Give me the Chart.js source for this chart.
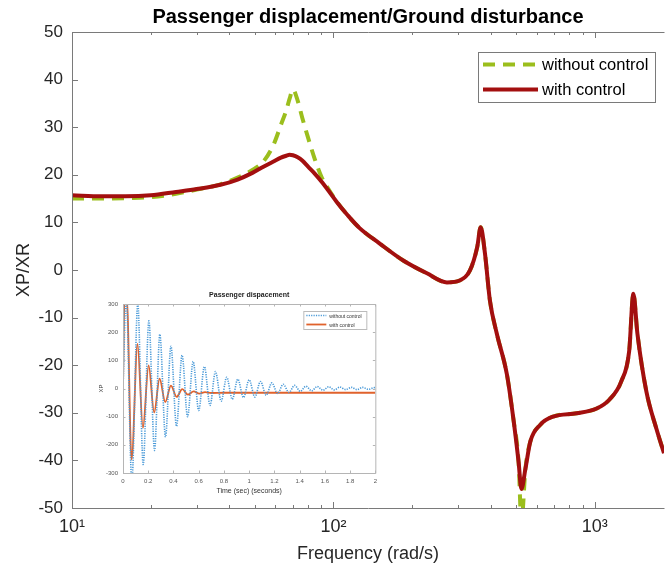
<!DOCTYPE html>
<html>
<head>
<meta charset="utf-8">
<script src="https://cdn.jsdelivr.net/npm/chart.js@4.4.0/dist/chart.umd.min.js"></script>
<style>
  html, body { margin: 0; padding: 0; background: #fff; overflow: hidden; }
  #wrap { position: relative; width: 666px; height: 569px; }
  #main { position: absolute; left: 0; top: 0; }
  #inset { position: absolute; left: 86px; top: 286px; filter: blur(0.45px); }
</style>
</head>
<body>
<div id="wrap">
  <canvas id="main" width="666" height="569"></canvas>
  <canvas id="inset" width="296" height="212"></canvas>
</div>
<script>
// frequency response (rad/s)
const freq = [10, 13, 16, 20, 25, 30, 37, 43, 49, 54, 59, 63, 66, 68, 70, 73, 76, 80, 85, 90, 96, 103, 113, 126, 150, 185, 228, 272, 304, 333, 355, 366, 380, 397, 422, 461, 488, 511, 524, 543, 567, 619, 693, 853, 1017, 1139, 1263, 1354, 1405, 1456, 1575, 1720, 1840];
const withControl = [15.7, 15.5, 15.5, 15.7, 16.4, 17.0, 17.9, 19.0, 20.4, 21.7, 22.8, 23.6, 24.0, 24.2, 24.1, 23.7, 23.0, 21.7, 20.2, 18.6, 16.6, 14.3, 11.6, 8.8, 5.6, 2.0, -0.7, -2.6, -2.2, -0.1, 4.8, 9.0, 3.5, -6.4, -13.4, -21.9, -31.2, -40.3, -46, -41.7, -36, -32.5, -30.8, -30.1, -29.1, -27.2, -23.4, -17, -5, -13.4, -25.5, -33.3, -38.5];
const withoutControl = [15.0, 15.0, 15.1, 15.3, 16.0, 16.9, 18.0, 19.4, 21.0, 22.8, 26.3, 30.5, 33.5, 36.0, 37.9, 35.6, 32.0, 27.8, 23.2, 19.6, 16.9, 14.4, 11.6, 8.8, 5.6, 2.0, -0.7, -2.6, -2.2, -0.1, 4.8, 9.0, 3.5, -6.4, -13.4, -21.9, -31.2, -40.3, -53, -41.7, -36, -32.5, -30.8, -30.1, -29.1, -27.2, -23.4, -17, -5, -13.4, -25.5, -33.3, -38.5];
const xTickVals = [10, 100, 1000];
const xTickLabels = ['10\u00B9', '10\u00B2', '10\u00B3'];
const xMinorVals = [20, 30, 40, 50, 60, 70, 80, 90, 200, 300, 400, 500, 600, 700, 800, 900];

// inset: time response, extrema
const tBlue = [0, 0.025, 0.07, 0.117, 0.16, 0.205, 0.25, 0.292, 0.337, 0.38, 0.424, 0.468, 0.512, 0.556, 0.6, 0.645, 0.69, 0.733, 0.778, 0.822, 0.866, 0.91, 0.955, 1.0, 1.045, 1.09, 1.135, 1.18, 1.225, 1.27, 1.315, 1.36, 1.405, 1.45, 1.495, 1.54, 1.585, 1.63, 1.675, 1.72, 1.765, 1.81, 1.855, 1.9, 1.945, 1.99, 2.0];
const xpBlue = [0, 330, -330, 300, -270, 240, -220, 192, -172, 150, -134, 118, -100, 96, -78, 78, -60, 60, -45, 40, -38, 33, -32, 31, -30, 25, -24, 20, -18, 15, -14, 11, -10, 8, -8, 7, -6, 6, -5, 5, -4, 4, -4, 4, -3, 3, 2];
const tOrange = [0, 0.012, 0.03, 0.068, 0.115, 0.158, 0.203, 0.247, 0.29, 0.335, 0.38, 0.425, 0.47, 0.515, 0.56, 0.605, 0.65, 0.7, 0.8, 1.0, 2.0];
const xpOrange = [0, 320, 320, -252, 158, -140, 82, -85, 35, -48, 10, -30, -2, -22, -10, -18, -13, -16, -15, -15, -15];

Chart.defaults.font.family = '"Liberation Sans", Arial, sans-serif';
Chart.defaults.animation = false;

// MATLAB style box with inward ticks
const boxTicks = {
    id: 'boxTicks',
    afterDraw(chart, args, o) {
        const { ctx, chartArea: a, scales } = chart;
        const x = scales.x, y = scales.y;
        ctx.save();
        ctx.strokeStyle = o.color;
        ctx.lineWidth = 1;
        ctx.beginPath();
        ctx.moveTo(a.left + 0.5, a.bottom + 0.5);
        ctx.lineTo(a.left + 0.5, a.top + 0.5);
        ctx.lineTo(a.right + 0.5, a.top + 0.5);
        if (o.right) ctx.lineTo(a.right + 0.5, a.bottom + 0.5);
        ctx.moveTo(a.left + 0.5, a.bottom + 0.5);
        ctx.lineTo(a.right + 0.5, a.bottom + 0.5);
        const xt = (vals, len) => vals.forEach(v => {
            const px = Math.round(x.getPixelForValue(v)) + 0.5;
            ctx.moveTo(px, a.bottom); ctx.lineTo(px, a.bottom - len);
            ctx.moveTo(px, a.top); ctx.lineTo(px, a.top + len);
        });
        const yt = (vals, len) => vals.forEach(v => {
            const py = Math.round(y.getPixelForValue(v)) + 0.5;
            ctx.moveTo(a.left, py); ctx.lineTo(a.left + len, py);
            if (o.right) { ctx.moveTo(a.right, py); ctx.lineTo(a.right - len, py); }
        });
        xt(x.ticks.map(t => t.value), o.len);
        xt(o.xMinor || [], o.minorLen);
        yt(y.ticks.map(t => t.value), o.len);
        ctx.stroke();
        ctx.restore();
    }
};

// legend box drawn inside the plot area
const boxLegend = {
    id: 'boxLegend',
    afterDraw(chart, args, o) {
        const { ctx, chartArea: a } = chart;
        const x1 = a.right - o.right - o.width;
        const y1 = a.top + o.top;
        ctx.save();
        ctx.fillStyle = '#fff';
        ctx.fillRect(x1, y1, o.width, o.height);
        ctx.strokeStyle = o.border;
        ctx.lineWidth = 1;
        ctx.strokeRect(x1 + 0.5, y1 + 0.5, o.width, o.height);
        ctx.font = o.font;
        o.order.forEach((i, k) => {
            const d = chart.data.datasets[i];
            const yy = y1 + o.rowH * (k + 0.5);
            ctx.strokeStyle = d.borderColor;
            ctx.lineWidth = d.borderWidth;
            ctx.setLineDash(d.borderDash || []);
            ctx.beginPath();
            ctx.moveTo(x1 + o.lineX, yy);
            ctx.lineTo(x1 + o.lineX + o.lineW, yy);
            ctx.stroke();
            ctx.setLineDash([]);
            ctx.fillStyle = o.textColor;
            ctx.textBaseline = 'middle';
            ctx.fillText(d.label, x1 + o.lineX + o.lineW + o.gap, yy + 1);
        });
        ctx.restore();
    }
};

function buildMain() {
    const ctx = document.getElementById('main').getContext('2d');
    new Chart(ctx, {
        type: 'line',
        data: {
            labels: freq,
            datasets: [{
                label: 'with control',
                data: withControl,
                borderColor: '#A30F0F',
                borderWidth: 4,
                pointRadius: 0,
                cubicInterpolationMode: 'monotone'
            }, {
                label: 'without control',
                data: withoutControl,
                borderColor: '#9BBE1D',
                borderWidth: 4,
                borderDash: [12, 8],
                pointRadius: 0,
                cubicInterpolationMode: 'monotone'
            }]
        },
        options: {
            responsive: false,
            devicePixelRatio: 1,
            layout: { padding: { right: 2 } },
            plugins: {
                legend: { display: false },
                tooltip: { enabled: false },
                title: {
                    display: true,
                    text: 'Passenger displacement/Ground disturbance',
                    fullSize: false,
                    color: '#000',
                    font: { size: 20, weight: 'bold' },
                    padding: { top: 5, bottom: 3 }
                },
                boxTicks: { color: '#7a7a7a', len: 6, minorLen: 3, right: false, xMinor: xMinorVals },
                boxLegend: {
                    order: [1, 0], right: 9, top: 20, width: 177, height: 50, rowH: 25,
                    lineX: 5, lineW: 55, gap: 4, font: '16.5px "Liberation Sans", Arial, sans-serif',
                    textColor: '#000', border: '#7a7a7a'
                }
            },
            scales: {
                x: {
                    type: 'logarithmic',
                    min: 10,
                    max: 1840,
                    afterFit: s => { s.height = 61; },
                    afterBuildTicks: s => { s.ticks = xTickVals.map(v => ({ value: v })); },
                    grid: { display: false, drawTicks: false },
                    border: { display: false },
                    ticks: {
                        color: '#262626',
                        font: { size: 18 },
                        padding: 8,
                        maxRotation: 0,
                        callback: v => xTickLabels[xTickVals.indexOf(v)]
                    },
                    title: {
                        display: true,
                        text: 'Frequency (rad/s)',
                        color: '#262626',
                        font: { size: 18 },
                        padding: { top: 0, bottom: 4 }
                    }
                },
                y: {
                    min: -50,
                    max: 50,
                    afterFit: s => { s.width = 72; },
                    grid: { display: false, drawTicks: false },
                    border: { display: false },
                    ticks: { stepSize: 10, color: '#262626', font: { size: 17 }, padding: 9 },
                    title: {
                        display: true,
                        text: 'XP/XR',
                        color: '#262626',
                        font: { size: 18 },
                        padding: { top: 13, bottom: 0 }
                    }
                }
            }
        },
        plugins: [boxTicks, boxLegend]
    });
}

function buildInset() {
    const ctx = document.getElementById('inset').getContext('2d');
    new Chart(ctx, {
        type: 'line',
        data: {
            datasets: [{
                label: 'without control',
                data: tBlue.map((t, i) => ({ x: t, y: xpBlue[i] })),
                borderColor: '#4A9AD8',
                borderWidth: 1.6,
                borderDash: [1.2, 1.2],
                pointRadius: 0,
                cubicInterpolationMode: 'monotone'
            }, {
                label: 'with control',
                data: tOrange.map((t, i) => ({ x: t, y: xpOrange[i] })),
                borderColor: '#E0622C',
                borderWidth: 1.8,
                pointRadius: 0,
                cubicInterpolationMode: 'monotone'
            }]
        },
        options: {
            responsive: false,
            devicePixelRatio: 1,
            layout: { padding: { right: 6 } },
            plugins: {
                legend: { display: false },
                tooltip: { enabled: false },
                title: {
                    display: true,
                    text: 'Passenger dispacement',
                    fullSize: false,
                    color: '#222',
                    font: { size: 7, weight: 'bold' },
                    padding: { top: 5, bottom: 4.6 }
                },
                boxTicks: { color: '#b5b5b5', len: 2.5, minorLen: 0, right: true },
                boxLegend: {
                    order: [0, 1], right: 9, top: 7, width: 63, height: 18, rowH: 9,
                    lineX: 3, lineW: 20, gap: 3, font: '5px "Liberation Sans", Arial, sans-serif',
                    textColor: '#333', border: '#bbb'
                }
            },
            scales: {
                x: {
                    type: 'linear',
                    min: 0,
                    max: 2,
                    afterFit: s => { s.height = 25; },
                    grid: { display: false, drawTicks: false },
                    border: { display: false },
                    ticks: {
                        stepSize: 0.2,
                        color: '#555',
                        font: { size: 6 },
                        padding: 5,
                        maxRotation: 0,
                        callback: v => String(Number(v.toFixed(1)))
                    },
                    title: {
                        display: true,
                        text: 'Time (sec) (seconds)',
                        color: '#333',
                        font: { size: 7 },
                        padding: { top: 0, bottom: 2.8 }
                    }
                },
                y: {
                    min: -300,
                    max: 300,
                    afterFit: s => { s.width = 37; },
                    grid: { display: false, drawTicks: false },
                    border: { display: false },
                    ticks: { stepSize: 100, color: '#555', font: { size: 6 }, padding: 5 },
                    title: {
                        display: true,
                        text: 'XP',
                        color: '#333',
                        font: { size: 6 },
                        padding: { top: 11.4, bottom: 0 }
                    }
                }
            }
        },
        plugins: [boxTicks, boxLegend]
    });
}

buildMain();
buildInset();
</script>
</body>
</html>
